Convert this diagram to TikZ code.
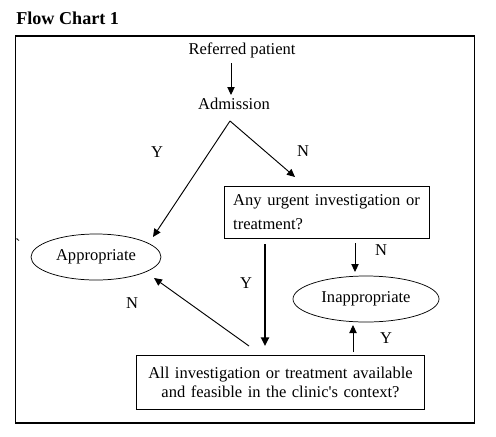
\documentclass[tikz,border=0pt]{standalone}
\usepackage{fontspec}
\setmainfont{Liberation Serif}
\usetikzlibrary{arrows.meta,shapes.geometric}
\begin{document}
\begin{tikzpicture}[x=0.75pt,y=-0.75pt,
  txt/.style={font=\fontsize{12.4}{14}\selectfont, inner sep=0pt},
  lbl/.style={font=\fontsize{12.4}{14}\selectfont, inner sep=0pt},
  oval/.style={draw, ellipse, line width=0.55pt, inner sep=0pt, font=\fontsize{12.4}{14}\selectfont},
  boxa/.style={draw, rectangle, line width=0.7pt, inner sep=0pt, font=\fontsize{12.4}{14}\selectfont},
  arr/.style={line width=0.7pt, -{Triangle[length=6pt,width=5.5pt]}},
  thickarr/.style={line width=1.9pt, -{Triangle[length=6.5pt,width=6pt]}}]
\useasboundingbox (0,0) rectangle (496,436);
\node[anchor=base west, inner sep=0pt, font=\fontsize{13.6}{15}\selectfont\bfseries] (title) at (16,24) {Flow Chart 1};
\node[draw, line width=0.8pt, minimum width=344.25pt, minimum height=290.25pt, inner sep=0pt] (frame) at (245,229.5) {};
\node[txt] (ref) at (242,50) {Referred patient};
\node[txt] (adm) at (234,104) {Admission};
\node[boxa, minimum width=153.75pt, minimum height=39pt, text width=140pt, align=justify,
  font=\fontsize{12.4}{18}\selectfont] (box1) at (326.5,212) {Any urgent investigation or treatment?};
\node[oval, minimum width=97.5pt, minimum height=34.5pt] (app) at (96,257) {Appropriate};
\node[oval, minimum width=109.5pt, minimum height=34.5pt] (inapp) at (366,299) {Inappropriate};
\node[boxa, minimum width=216pt, minimum height=40.5pt, text width=205pt, align=center,
  font=\fontsize{12.4}{14.3}\selectfont] (box2) at (280.5,382) {All investigation or treatment available\\and feasible in the clinic\textquotesingle s context?};
\node[txt] (tick) at (18,245) {\textasciigrave};
% connector end points
\coordinate (r1) at (231,63);
\coordinate (a1) at (231,95);
\coordinate (apex) at (230,121);
\coordinate (appin) at (153,237);
\coordinate (box1in) at (295,177);
\coordinate (b1out) at (265,244);
\coordinate (b2in) at (265,346);
\coordinate (b1outn) at (355,243);
\coordinate (inappin) at (355,272);
\coordinate (b2outy) at (353,352);
\coordinate (inappiny) at (353,325);
\coordinate (b2outn) at (249,346);
\coordinate (appin2) at (154,278);
\draw[arr] (r1) -- (a1);
\draw[arr] (apex) -- (appin);
\draw[arr] (apex) -- (box1in);
\draw[thickarr] (b1out) -- (b2in);
\draw[arr] (b1outn) -- (inappin);
\draw[arr] (b2outy) -- (inappiny);
\draw[arr] (b2outn) -- (appin2);
\node[lbl] (ly1) at (157,152) {Y};
\node[lbl] (ln1) at (303,151) {N};
\node[lbl] (ly2) at (246,283) {Y};
\node[lbl] (ln2) at (381,250) {N};
\node[lbl] (ly3) at (386,338) {Y};
\node[lbl] (ln3) at (132,303) {N};
\end{tikzpicture}
\end{document}
